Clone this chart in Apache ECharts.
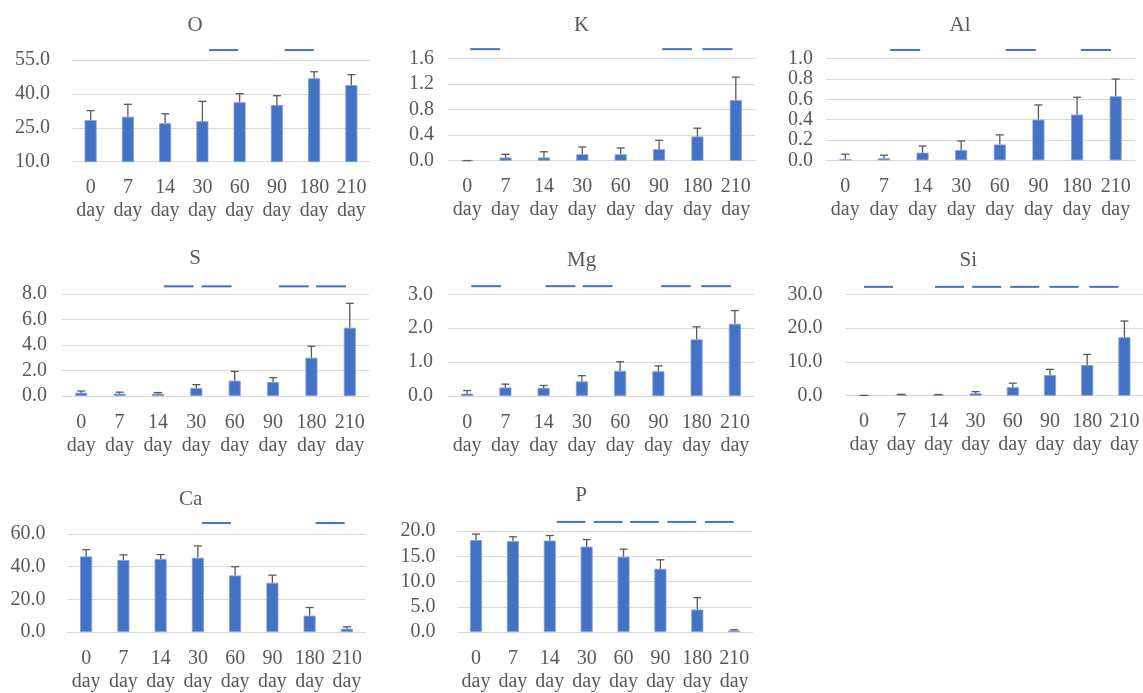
<!DOCTYPE html>
<html>
<head>
<meta charset="utf-8">
<title>Element content by day</title>
<script src="https://cdn.jsdelivr.net/npm/echarts@6/dist/echarts.min.js"></script>
<style>
  html, body { margin: 0; padding: 0; background: #fff; }
  #chart { width: 1143px; height: 693px; }
</style>
</head>
<body>
<div id="chart"></div>
<script>
// sampling days, shared by every panel
const days = [0, 7, 14, 30, 60, 90, 180, 210];

// mean values
const oMean = [28.4, 29.9, 27.0, 27.9, 36.3, 35.1, 46.9, 43.9];
const kMean = [0.002, 0.05, 0.05, 0.10, 0.10, 0.18, 0.38, 0.95];
const alMean = [0.01, 0.02, 0.075, 0.10, 0.155, 0.40, 0.45, 0.63];
const sMean = [0.25, 0.18, 0.18, 0.63, 1.2, 1.1, 3.0, 5.35];
const mgMean = [0.07, 0.25, 0.24, 0.43, 0.74, 0.73, 1.67, 2.13];
const siMean = [0.05, 0.25, 0.2, 0.7, 2.5, 6.1, 9.1, 17.3];
const caMean = [46.3, 44.1, 44.7, 45.4, 34.6, 30.1, 10.0, 2.0];
const pMean = [18.2, 18.0, 18.1, 16.9, 14.9, 12.5, 4.45, 0.3];

// standard deviations (only the upper bar is drawn)
const oSd = [4.2, 5.5, 4.2, 8.8, 3.8, 4.1, 2.9, 4.6];
const kSd = [0, 0.05, 0.09, 0.115, 0.10, 0.14, 0.13, 0.36];
const alSd = [0.05, 0.03, 0.065, 0.09, 0.095, 0.145, 0.17, 0.17];
const sSd = [0.14, 0.12, 0.09, 0.26, 0.73, 0.34, 0.9, 1.92];
const mgSd = [0.09, 0.10, 0.07, 0.17, 0.27, 0.16, 0.37, 0.39];
const siSd = [0.05, 0.15, 0.15, 0.5, 1.2, 1.7, 3.1, 4.8];
const caSd = [4.1, 3.1, 2.7, 7.3, 5.4, 4.7, 5.0, 1.2];
const pSd = [1.2, 0.85, 1.0, 1.4, 1.5, 1.8, 2.35, 0.15];

// y axis ticks: [min, max, interval]
const oTicks = [10, 55, 15];
const kTicks = [0, 1.6, 0.4];
const alTicks = [0, 1.0, 0.2];
const sTicks = [0, 8, 2];
const mgTicks = [0, 3, 1];
const siTicks = [0, 30, 10];
const caTicks = [0, 60, 20];
const pTicks = [0, 20, 5];

// significance lines: centre in category units, and their height in data units
const oMarks = [3.57, 5.6];
const kMarks = [0.47, 5.47, 6.52];
const alMarks = [1.55, 4.54, 6.49];
const sMarks = [2.54, 3.53, 5.54, 6.51];
const mgMarks = [0.50, 2.44, 3.41, 5.46, 6.51];
const siMarks = [0.39, 2.30, 3.30, 4.32, 5.38, 6.45];
const caMarks = [3.50, 6.55];
const pMarks = [2.58, 3.58, 4.57, 5.58, 6.6];
const markLevel = [59.4, 1.75, 1.086, 8.6, 3.24, 32.2, 66.7, 21.8];

const panels = [
  { name: "O", mean: oMean, sd: oSd, ticks: oTicks, marks: oMarks },
  { name: "K", mean: kMean, sd: kSd, ticks: kTicks, marks: kMarks },
  { name: "Al", mean: alMean, sd: alSd, ticks: alTicks, marks: alMarks },
  { name: "S", mean: sMean, sd: sSd, ticks: sTicks, marks: sMarks },
  { name: "Mg", mean: mgMean, sd: mgSd, ticks: mgTicks, marks: mgMarks },
  { name: "Si", mean: siMean, sd: siSd, ticks: siTicks, marks: siMarks },
  { name: "Ca", mean: caMean, sd: caSd, ticks: caTicks, marks: caMarks },
  { name: "P", mean: pMean, sd: pSd, ticks: pTicks, marks: pMarks }
];

// layout: [left, top, width, height], title centre, y label gap
const layout = [
  { box: [72, 60, 298, 101.7], title: [195, 25], gap: 22 },
  { box: [448, 58.7, 307, 102], title: [581.7, 25], gap: 14 },
  { box: [826, 58.7, 309, 101.6], title: [960, 25], gap: 13 },
  { box: [62, 294, 307, 102], title: [195, 258], gap: 15 },
  { box: [448, 294.3, 306, 101.7], title: [581.7, 260], gap: 15 },
  { box: [845.4, 294.3, 298.6, 101.4], title: [968.3, 260], gap: 23 },
  { box: [67.5, 534, 298, 101.7], title: [190.7, 499], gap: 22 },
  { box: [457.6, 531, 295, 102], title: [581, 495], gap: 22 }
];

const FONT = "Liberation Serif";
const TEXT = "#595959";
const BLUE = "#4472C4";

function renderError(params, api) {
  const x = api.value(0);
  const lo = api.coord([x, api.value(1)]);
  const hi = api.coord([x, api.value(2)]);
  const st = { stroke: TEXT, lineWidth: 1.3 };
  return {
    type: "group",
    children: [
      { type: "line", shape: { x1: lo[0], y1: lo[1], x2: hi[0], y2: hi[1] }, style: st },
      { type: "line", shape: { x1: hi[0] - 4, y1: hi[1], x2: hi[0] + 4, y2: hi[1] }, style: st }
    ]
  };
}

function markRenderer(marks) {
  return function (params, api) {
    const p = marks[params.dataIndex];
    const base = Math.floor(p);
    const band = api.size([1, 0])[0];
    const pt = api.coord([base, api.value(1)]);
    const cx = pt[0] + (p - base) * band;
    const half = band * 0.39;
    return {
      type: "line",
      shape: { x1: cx - half, y1: pt[1], x2: cx + half, y2: pt[1] },
      style: { stroke: BLUE, lineWidth: 2 }
    };
  };
}

const option = {
  animation: false,
  backgroundColor: "#fff",
  title: [],
  grid: [],
  xAxis: [],
  yAxis: [],
  series: []
};

panels.forEach((pan, i) => {
  const lay = layout[i];
  option.title.push({
    text: pan.name,
    left: lay.title[0],
    top: lay.title[1],
    textAlign: "center",
    textVerticalAlign: "middle",
    padding: 0,
    textStyle: { fontFamily: FONT, fontSize: 21, fontWeight: "normal", color: TEXT }
  });
  option.grid.push({
    left: lay.box[0],
    top: lay.box[1],
    width: lay.box[2],
    height: lay.box[3],
    containLabel: false
  });
  option.xAxis.push({
    type: "category",
    gridIndex: i,
    data: days.map(d => d + "\nday"),
    axisTick: { show: false },
    axisLine: { lineStyle: { color: "#d9d9d9", width: 1 } },
    axisLabel: {
      interval: 0,
      margin: 15,
      fontFamily: FONT,
      fontSize: 20,
      lineHeight: 23,
      color: TEXT
    }
  });
  option.yAxis.push({
    type: "value",
    gridIndex: i,
    min: pan.ticks[0],
    max: pan.ticks[1],
    interval: pan.ticks[2],
    axisLine: { show: false },
    axisTick: { show: false },
    splitLine: { lineStyle: { color: "#d9d9d9", width: 1 } },
    axisLabel: {
      margin: lay.gap,
      fontFamily: FONT,
      fontSize: 20,
      color: TEXT,
      formatter: v => v.toFixed(1)
    }
  });
  option.series.push({
    type: "bar",
    xAxisIndex: i,
    yAxisIndex: i,
    barWidth: 12,
    data: pan.mean,
    itemStyle: { color: BLUE, borderColor: "#7f9fd8", borderWidth: 0.8 }
  });
  option.series.push({
    type: "custom",
    xAxisIndex: i,
    yAxisIndex: i,
    z: 5,
    renderItem: renderError,
    data: pan.mean.map((m, j) => [j, m, m + pan.sd[j]])
  });
  option.series.push({
    type: "custom",
    xAxisIndex: i,
    yAxisIndex: i,
    z: 5,
    clip: false,
    renderItem: markRenderer(pan.marks),
    data: pan.marks.map(p => [Math.floor(p), markLevel[i]])
  });
});

const chart = echarts.init(document.getElementById("chart"));
chart.setOption(option);
</script>
</body>
</html>
